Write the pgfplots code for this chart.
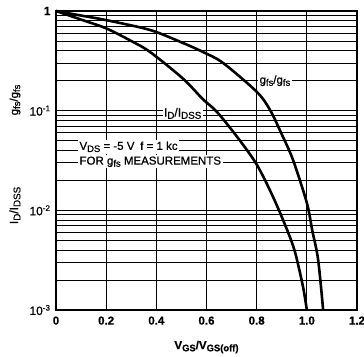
\documentclass[border=0pt]{standalone}
\usepackage{fontspec}
\setmainfont{Liberation Sans}[FakeBold=0.7]
\usepackage{pgfplots}
\pgfplotsset{compat=1.18}
\newcommand{\sub}[1]{\raisebox{-0.35ex}{\scalebox{0.82}{#1}}}
\begin{document}
\begin{tikzpicture}
\begin{axis}[
  scale only axis, width=301pt, height=299pt,
  xmin=0, xmax=1.2, ymode=log, ymin=1e-3, ymax=1,
  clip=false,
  xtick={0,0.2,0.4,0.6,0.8,1.0,1.2},
  xticklabels={0,0.2,0.4,0.6,0.8,1.0,1.2},
  ytick={1e-3,1e-2,1e-1,1},
  yticklabels={10\textsuperscript{-3},10\textsuperscript{-2},10\textsuperscript{-1},\textbf{1}},
  minor ytick={2e-3,3e-3,4e-3,5e-3,6e-3,7e-3,8e-3,9e-3,2e-2,3e-2,4e-2,5e-2,6e-2,7e-2,8e-2,9e-2,0.2,0.3,0.4,0.5,0.6,0.7,0.8,0.9},
  grid=both,
  major grid style={black, line width=0.8pt},
  minor grid style={black, line width=0.8pt},
  major tick length=0pt, minor tick length=0pt,
  axis line style={line width=1.4pt},
  yticklabel style={font=\fontsize{12}{13}\selectfont, xshift=-2pt},
  xticklabel style={font=\fontsize{11.5}{13}\selectfont\bfseries, yshift=-3pt},
]
\coordinate (ll) at (rel axis cs:0,0);
\coordinate (ur) at (rel axis cs:1,1);
\node[fill=white, inner sep=1.5pt, anchor=west, font=\fontsize{11.5}{13}\selectfont] at (axis cs:0.805,0.2) {g\sub{fs}/g\sub{fs}};
\node[fill=white, inner sep=1.5pt, font=\fontsize{12}{13}\selectfont] at (axis cs:0.505,0.094) {I\sub{D}/I\sub{DSS}};
\node[fill=white, inner sep=1.5pt, anchor=west, font=\fontsize{11.5}{13}\selectfont] at (axis cs:0.087,0.0434) {V\sub{DS} = -5 V\enspace f = 1 kc};
\node[fill=white, inner sep=1.5pt, anchor=west, font=\fontsize{11.5}{13}\selectfont] at (axis cs:0.087,0.0307) {FOR g\sub{fs} MEASUREMENTS};
\addplot[black, line width=2.6pt, smooth, tension=0.5] coordinates {
(0,1) (0.1,0.82) (0.2,0.67) (0.3,0.50) (0.375,0.388) (0.506,0.21) (0.586,0.13)
(0.642,0.097) (0.726,0.053) (0.801,0.0286) (0.865,0.0137) (0.921,0.0064)
(0.953,0.0038) (0.985,0.0017) (1.0,0.001)};
\addplot[black, line width=2.6pt, smooth, tension=0.5] coordinates {
(0,1) (0.1,0.90) (0.2,0.81) (0.375,0.645) (0.5,0.485) (0.586,0.388) (0.666,0.301)
(0.801,0.154) (0.853,0.102) (0.9,0.058) (0.945,0.032) (1.0,0.0119) (1.021,0.0064)
(1.045,0.0032) (1.065,0.001)};
\node[rotate=90, font=\fontsize{11.5}{13}\selectfont] at ([xshift=-41pt]axis cs:0,0.128) {g\sub{fs}/g\sub{fs}};
\node[rotate=90, font=\fontsize{12}{13}\selectfont] at ([xshift=-41pt]axis cs:0,0.0112) {I\sub{D}/I\sub{DSS}};
\node[font=\fontsize{11.5}{13}\selectfont\bfseries] at ([yshift=-37pt]rel axis cs:0.5,0) {V\sub{GS}/V\sub{GS(off)}};
\end{axis}
\pgfresetboundingbox
\useasboundingbox ([shift={(-56pt,-46pt)}]ll) rectangle ([shift={(7pt,11pt)}]ur);
\end{tikzpicture}
\end{document}
